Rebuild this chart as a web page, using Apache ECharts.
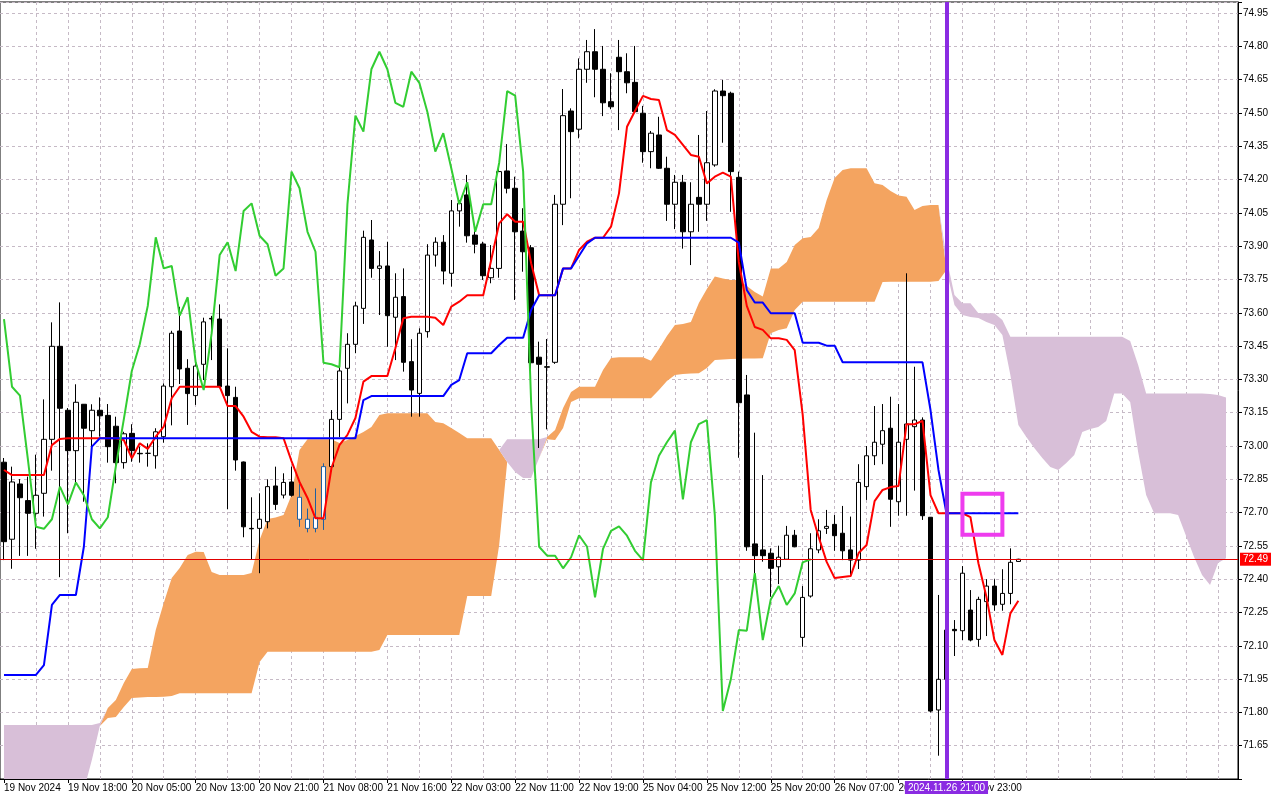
<!DOCTYPE html>
<html><head><meta charset="utf-8">
<script src="https://cdn.jsdelivr.net/npm/echarts@6/dist/echarts.min.js"></script>
<style>html,body{margin:0;padding:0;background:#fff}#c{width:1280px;height:800px}</style>
</head><body><div id="c"></div>
<script>
// ---- data (USD/RUB, H1) ----
const tickLabels = ['19 Nov 2024','19 Nov 18:00','20 Nov 05:00','20 Nov 13:00','20 Nov 21:00','21 Nov 08:00','21 Nov 16:00','22 Nov 03:00','22 Nov 11:00','22 Nov 19:00','25 Nov 04:00','25 Nov 12:00','25 Nov 20:00','26 Nov 07:00','26 Nov 15:00','26 Nov 23:00'];

const open = [
72.927,72.58,72.829,72.754,72.697,72.787,73.03,73.449,73.161,72.979,
73.188,73.069,73.161,73.138,73.089,72.925,73.057,72.967,72.967,72.956,
73.042,73.267,73.518,73.35,73.227,73.368,73.575,73.572,73.27,73.219,
72.928,72.629,72.629,72.659,72.82,72.779,72.838,72.769,72.67,72.629,
72.67,72.907,73.12,73.35,73.458,73.62,73.928,73.8,73.811,73.58,
73.673,73.38,73.237,73.515,73.86,73.918,73.778,74.059,74.131,73.95,
73.91,73.758,73.8,74.239,74.161,73.968,73.893,73.4,73.357,73.377,
74.089,74.509,74.427,74.697,74.776,74.697,74.551,74.751,74.686,74.638,
74.499,74.326,74.401,74.251,74.089,74.188,73.965,74.12,74.089,74.266,
74.599,74.589,74.21,73.23,72.559,72.532,72.517,72.456,72.49,72.598,
72.138,72.324,72.532,72.629,72.647,72.607,72.532,72.486,72.817,72.956,
73.008,73.08,72.749,73.03,73.087,73.117,72.679,71.811,71.949,72.174,
72.168,72.261,72.129,72.299,72.369,72.287,72.336,72.48];
const high = [
72.946,72.907,72.851,72.862,72.961,73.21,73.557,73.647,73.171,73.278,
73.189,73.188,73.219,73.189,73.132,73.064,73.098,72.997,73.012,73.08,
73.282,73.519,73.627,73.391,73.373,73.578,73.586,73.638,73.44,73.267,
72.93,72.769,72.787,72.85,72.907,72.877,72.907,72.829,72.718,72.809,
72.922,73.162,73.357,73.508,73.65,73.97,74.018,73.878,73.92,73.778,
73.8,73.481,73.53,73.909,73.94,73.95,74.108,74.108,74.221,73.981,
73.92,73.905,74.258,74.36,74.213,74.071,73.905,73.47,73.482,74.131,
74.608,74.521,74.746,74.829,74.878,74.802,74.679,74.829,74.769,74.802,
74.532,74.419,74.483,74.303,74.221,74.221,74.188,74.401,74.509,74.607,
74.649,74.596,74.236,73.32,73.06,72.869,72.539,72.551,72.64,72.622,
72.369,72.607,72.67,72.712,72.689,72.73,72.682,72.918,73.0,73.18,
73.189,73.222,73.189,73.778,73.357,73.129,72.68,72.329,72.216,72.216,
72.459,72.351,72.321,72.4,72.4,72.445,72.539,72.492];
const low = [
72.486,72.447,72.505,72.505,72.537,72.682,72.889,72.409,72.607,72.832,
72.749,72.952,73.042,72.925,72.832,72.898,72.929,72.925,72.907,72.898,
73.015,73.093,73.279,73.095,73.185,73.297,73.387,73.26,72.715,72.889,
72.589,72.49,72.427,72.629,72.712,72.764,72.772,72.636,72.611,72.611,
72.622,72.892,73.04,73.192,73.418,73.55,73.758,73.59,73.447,73.387,
73.335,73.132,73.132,73.488,73.808,73.728,73.718,73.988,73.916,73.868,
73.748,73.733,73.758,74.138,73.658,73.785,73.327,72.991,73.075,73.37,
73.995,74.116,74.386,74.636,74.571,74.486,74.517,74.423,74.589,74.5,
74.276,74.251,74.248,74.014,73.977,73.889,73.815,73.965,74.014,74.258,
74.366,74.055,72.947,72.528,72.427,72.479,72.321,72.378,72.488,72.544,
72.096,72.317,72.517,72.604,72.528,72.486,72.411,72.446,72.757,72.914,
72.918,72.636,72.686,72.686,72.799,72.667,71.8,71.605,71.901,72.054,
72.126,72.12,72.096,72.144,72.258,72.258,72.287,72.478];
const close = [
72.569,72.838,72.767,72.697,72.778,73.03,73.449,73.17,72.979,73.197,
73.08,73.161,73.136,72.997,72.925,73.055,72.979,72.965,72.967,73.064,
73.27,73.508,73.347,73.236,73.36,73.559,73.572,73.267,73.227,72.937,
72.636,72.627,72.67,72.817,72.737,72.836,72.778,72.67,72.629,72.679,
72.907,73.12,73.338,73.458,73.631,73.94,73.8,73.811,73.587,73.67,
73.377,73.252,73.508,73.86,73.918,73.788,74.059,74.093,73.947,73.909,
73.767,73.8,74.236,74.161,73.965,73.875,73.375,73.368,73.355,74.089,
74.488,74.416,74.697,74.776,74.697,74.546,74.528,74.686,74.636,74.506,
74.326,74.409,74.251,74.089,74.188,73.965,74.089,74.089,74.276,74.599,
74.578,74.236,73.195,72.546,72.506,72.506,72.449,72.499,72.598,72.546,
72.318,72.537,72.618,72.638,72.596,72.528,72.486,72.836,72.956,73.017,
73.069,72.76,73.017,73.099,73.117,72.686,71.806,71.949,72.171,72.168,
72.427,72.126,72.309,72.369,72.284,72.336,72.476,72.49];

const tenkan = [
72.892,72.869,72.869,72.869,72.869,72.869,73.004,73.032,73.035,73.035,
73.035,73.035,73.035,73.035,73.035,73.027,72.945,73.012,72.987,73.042,
73.087,73.215,73.267,73.267,73.267,73.267,73.267,73.267,73.18,73.18,
73.132,73.064,73.042,73.039,73.039,73.035,72.932,72.838,72.766,72.674,
72.674,72.901,73.004,73.05,73.126,73.29,73.315,73.315,73.315,73.44,
73.575,73.582,73.582,73.582,73.578,73.545,73.628,73.65,73.679,73.679,
73.679,73.838,74.003,74.044,74.01,74.01,73.823,73.679,73.679,73.679,
73.8,73.8,73.883,73.92,73.938,73.938,73.988,74.138,74.438,74.509,
74.577,74.563,74.559,74.423,74.401,74.356,74.311,74.303,74.183,74.213,
74.231,74.213,73.829,73.631,73.536,73.523,73.485,73.485,73.478,73.432,
73.14,72.712,72.59,72.478,72.405,72.41,72.414,72.518,72.554,72.752,
72.802,72.815,72.82,73.098,73.098,73.113,72.779,72.697,72.697,72.697,
72.697,72.68,72.472,72.321,72.126,72.059,72.246,72.303];
const kijun = [
71.969,71.969,71.969,71.969,71.969,72.013,72.284,72.329,72.329,72.329,
72.546,72.997,73.035,73.035,73.035,73.035,73.035,73.035,73.035,73.035,
73.035,73.035,73.035,73.035,73.035,73.035,73.035,73.035,73.035,73.035,
73.035,73.035,73.035,73.035,73.035,73.035,73.035,73.035,73.035,73.035,
73.035,73.035,73.035,73.035,73.035,73.207,73.225,73.225,73.225,73.225,
73.225,73.225,73.225,73.225,73.225,73.225,73.275,73.297,73.418,73.418,
73.418,73.418,73.455,73.488,73.488,73.488,73.613,73.679,73.679,73.679,
73.8,73.8,73.857,73.913,73.938,73.938,73.938,73.938,73.938,73.938,
73.938,73.938,73.938,73.938,73.938,73.938,73.938,73.938,73.938,73.938,
73.938,73.938,73.916,73.703,73.646,73.646,73.598,73.598,73.598,73.598,
73.465,73.465,73.465,73.452,73.452,73.377,73.377,73.377,73.377,73.377,
73.377,73.377,73.377,73.377,73.377,73.377,73.162,72.892,72.697,72.697,
72.697,72.697,72.697,72.697,72.697,72.697,72.697,72.697];
// lagging span: the closes plotted 26 bars back (as read on the green line)
const chikou = close.slice(26);

const spanA = [
71.45,71.45,71.45,71.45,71.45,71.45,71.45,71.45,71.45,71.45,
71.45,71.586,71.739,71.82,71.856,71.932,71.995,71.999,72.0,72.171,
72.293,72.405,72.45,72.509,72.524,72.522,72.432,72.419,72.419,72.419,
72.419,72.428,72.577,72.671,72.678,72.689,72.779,72.982,73.03,73.03,
73.03,73.03,73.013,73.027,73.045,73.063,73.086,73.14,73.147,73.147,
73.147,73.147,73.147,73.147,73.108,73.102,73.081,73.059,73.035,73.035,
73.035,73.035,72.982,72.928,72.883,72.856,72.856,72.946,73.041,73.072,
73.171,73.243,73.267,73.267,73.267,73.342,73.396,73.4,73.4,73.4,
73.4,73.384,73.437,73.496,73.545,73.55,73.559,73.644,73.707,73.763,
73.755,73.748,73.748,73.721,73.694,73.673,73.8,73.8,73.829,73.905,
73.936,73.941,73.982,74.108,74.207,74.243,74.251,74.251,74.251,74.183,
74.176,74.149,74.128,74.123,74.063,74.081,74.086,74.086,73.793,73.635,
73.59,73.581,73.577,73.559,73.545,73.5,73.32,73.095,73.041,72.991,
72.946,72.905,72.892,72.923,72.96,73.063,73.077,73.086,73.113,73.237,
73.237,73.198,72.973,72.779,72.697,72.697,72.697,72.689,72.595,72.5,
72.419,72.374,72.473,72.494];
const spanB = [
71.743,71.743,71.743,71.743,71.743,71.743,71.743,71.743,71.743,71.743,
71.743,71.743,71.752,71.775,71.779,71.824,71.865,71.867,71.869,71.869,
71.871,71.874,71.886,71.886,71.886,71.886,71.886,71.886,71.886,71.886,
71.886,71.886,72.027,72.073,72.073,72.073,72.073,72.073,72.073,72.073,
72.073,72.073,72.073,72.073,72.073,72.073,72.073,72.081,72.149,72.149,
72.149,72.149,72.149,72.149,72.149,72.149,72.149,72.149,72.324,72.324,
72.324,72.324,72.554,73.03,73.03,73.03,73.03,73.03,73.03,73.027,
73.081,73.198,73.215,73.215,73.215,73.215,73.215,73.215,73.215,73.215,
73.215,73.215,73.252,73.293,73.32,73.324,73.327,73.328,73.351,73.387,
73.39,73.392,73.393,73.394,73.394,73.395,73.508,73.523,73.53,73.613,
73.65,73.65,73.65,73.65,73.65,73.65,73.65,73.65,73.65,73.65,
73.739,73.74,73.74,73.74,73.74,73.74,73.74,73.743,73.847,73.68,
73.643,73.643,73.598,73.598,73.598,73.568,73.492,73.492,73.492,73.492,
73.492,73.492,73.492,73.492,73.492,73.492,73.492,73.492,73.492,73.492,
73.492,73.473,73.365,73.237,73.237,73.237,73.237,73.237,73.237,73.237,
73.237,73.234,73.23,73.219];

const bidPrice = 72.49;
const cursorBar = 118;                 // vertical line bar (26 Nov 21:00)
const cursorLabel = '2024.11.26 21:00';
const boxMark = [120, 125, 72.785, 72.60]; // rectangle: from bar, to bar, top price, bottom price
const barsInsideCloud = [37, 38, 39, 40];  // candles drawn tinted where they sit inside the cloud

// ---- build ----
const N = 155;
const categories = [];
for (let i = 0; i < N; i++) categories.push(i % 8 === 0 && i / 8 < tickLabels.length ? tickLabels[i / 8] : String(i));
const TINT = '#1f5fa0';
const candles = open.map((o, i) => {
  const v = [o, close[i], low[i], high[i]];
  if (barsInsideCloud.indexOf(i) >= 0) {
    return {value: v, itemStyle: {color: '#ffffff', color0: TINT, borderColor: TINT, borderColor0: TINT}};
  }
  return v;
});
const cloudBase = spanA.map((a, i) => Math.min(a, spanB[i]));
const cloudUp = spanA.map((a, i) => +Math.max(a - spanB[i], 0).toFixed(4));
const cloudDn = spanA.map((a, i) => +Math.max(spanB[i] - a, 0).toFixed(4));

const FONT = "'Liberation Sans', Arial, sans-serif";
const GRIDC = '#c6bac6';
const every8 = (i) => i % 8 === 0 && i <= 120;
const every4 = (i) => i % 4 === 0 && i > 0;

const chart = echarts.init(document.getElementById('c'), null, {renderer: 'canvas'});
chart.setOption({
  animation: false,
  backgroundColor: '#fff',
  grid: {left: 0, right: 42, top: 2, bottom: 21, show: true, borderColor: '#000', borderWidth: 1, backgroundColor: '#fff'},
  xAxis: {
    type: 'category', data: categories, boundaryGap: true,
    axisLine: {lineStyle: {color: '#000'}},
    axisTick: {show: true, alignWithLabel: true, interval: every8, length: 4, lineStyle: {color: '#000'}},
    axisLabel: {interval: every8, align: 'left', color: '#000', fontSize: 10, fontFamily: FONT, margin: 4},
    splitLine: {show: true, interval: every4, alignWithLabel: true, lineStyle: {color: GRIDC, type: [3, 3], width: 1}}
  },
  yAxis: {
    type: 'value', position: 'right', min: 71.5, max: 75, interval: 0.15,
    axisLine: {show: true, lineStyle: {color: '#000'}},
    axisTick: {show: true, length: 4, lineStyle: {color: '#000'}},
    axisLabel: {color: '#000', fontSize: 10, fontFamily: FONT, margin: 5,
      formatter: (v) => (v < 71.6 || v > 74.96) ? '' : v.toFixed(2)},
    splitLine: {show: true, lineStyle: {color: GRIDC, type: [3, 3], width: 1}}
  },
  series: [
    {name: 'cloudBase', type: 'line', stack: 'cloud', data: cloudBase, symbol: 'none', silent: true,
     lineStyle: {width: 0, opacity: 0}, z: 1},
    {name: 'spanA>spanB', type: 'line', stack: 'cloud', data: cloudUp, symbol: 'none', silent: true,
     lineStyle: {width: 0, opacity: 0}, areaStyle: {color: '#F4A460', opacity: 1}, z: 1},
    {name: 'spanB>spanA', type: 'line', stack: 'cloud', data: cloudDn, symbol: 'none', silent: true,
     lineStyle: {width: 0, opacity: 0}, areaStyle: {color: '#D8BFD8', opacity: 1}, z: 1},
    {name: 'USDRUB', type: 'candlestick', data: candles, barWidth: 5, z: 3,
     itemStyle: {color: '#ffffff', color0: '#000000', borderColor: '#000000', borderColor0: '#000000', borderWidth: 1},
     markLine: {silent: true, symbol: ['none', 'none'], animation: false,
       lineStyle: {color: '#e00000', width: 1, type: 'solid'},
       label: {show: true, position: 'end', formatter: bidPrice.toFixed(2), color: '#fff', backgroundColor: '#ff0000',
               padding: [2, 3, 1, 3], fontSize: 10, fontFamily: FONT, distance: 2},
       data: [{yAxis: bidPrice}]}},
    {name: 'Tenkan-sen', type: 'line', data: tenkan, symbol: 'none', lineStyle: {color: '#ff0000', width: 2}, z: 4},
    {name: 'Kijun-sen', type: 'line', data: kijun, symbol: 'none', lineStyle: {color: '#0000ff', width: 2}, z: 4},
    {name: 'Chikou Span', type: 'line', data: chikou, symbol: 'none', lineStyle: {color: '#32CD32', width: 2}, z: 4},
    {name: 'marks', type: 'line', data: [], symbol: 'none', z: 10,
     markLine: {silent: true, symbol: ['none', 'none'], animation: false, z: 10,
       lineStyle: {color: '#8A2BE2', width: 4, type: 'solid'},
       label: {show: true, position: 'start', formatter: cursorLabel, color: '#fff', backgroundColor: '#8A2BE2',
               padding: [2, 3, 1, 3], fontSize: 10, fontFamily: FONT, distance: 2},
       data: [{xAxis: categories[cursorBar]}]},
     markArea: {silent: true, z: 9,
       itemStyle: {color: 'rgba(0,0,0,0)', borderColor: '#EE3CEE', borderWidth: 4},
       data: [[{xAxis: categories[boxMark[0]], yAxis: boxMark[2]}, {xAxis: categories[boxMark[1]], yAxis: boxMark[3]}]]}}
  ]
});
</script></body></html>
